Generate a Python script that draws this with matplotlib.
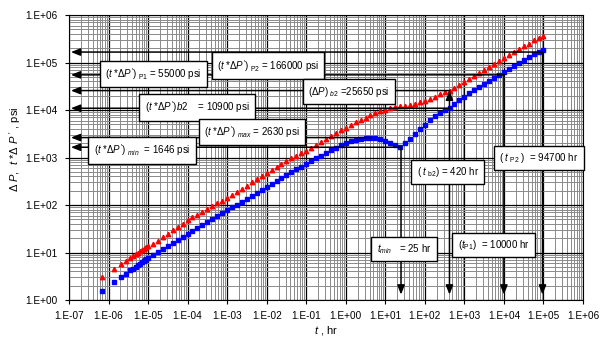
import numpy as np
import matplotlib
matplotlib.use("Agg")
import matplotlib.pyplot as plt
from matplotlib.ticker import LogLocator, FuncFormatter, NullFormatter

plt.rcParams['font.family'] = ['Liberation Sans', 'DejaVu Sans']
plt.rcParams['mathtext.fontset'] = 'custom'
plt.rcParams['mathtext.rm'] = 'Liberation Sans'
plt.rcParams['mathtext.it'] = 'Liberation Sans:italic'
plt.rcParams['mathtext.bf'] = 'Liberation Sans:bold'

# time, hr
t_hr = [7.0e-7, 1.4e-6, 2.1e-6, 2.8e-6, 3.5e-6, 4.2e-6, 4.9e-6, 5.6e-6, 6.3e-6, 7.0e-6,
        7.7e-6, 8.4e-6, 9.1e-6, 9.8e-6,
        1.33e-5, 1.78e-5, 2.37e-5, 3.16e-5, 4.22e-5, 5.62e-5, 7.5e-5, 1e-4,
        1.33e-4, 1.78e-4, 2.37e-4, 3.16e-4, 4.22e-4, 5.62e-4, 7.5e-4, 1e-3,
        1.33e-3, 1.78e-3, 2.37e-3, 3.16e-3, 4.22e-3, 5.62e-3, 7.5e-3, 1e-2,
        1.33e-2, 1.78e-2, 2.37e-2, 3.16e-2, 4.22e-2, 5.62e-2, 7.5e-2, 1e-1,
        0.133, 0.178, 0.237, 0.316, 0.422, 0.562, 0.75, 1.0,
        1.33, 1.78, 2.37, 3.16, 4.22, 5.62, 7.5, 10.0,
        13.3, 17.8, 23.7, 31.6, 42.2, 56.2, 75.0, 100.0,
        133, 178, 237, 316, 422, 562, 750, 1000,
        1330, 1780, 2370, 3160, 4220, 5620, 7500, 10000,
        13300, 17800, 23700, 31600, 42200, 56200, 75000, 94700]

# pressure drop, psi (red triangles)
dp_psi = [3.1, 4.4, 5.6, 6.6, 7.6, 8.4, 9.2, 9.9, 10.6, 11.2,
          11.8, 12.4, 12.9, 13.5,
          15.2, 17.9, 21.1, 24.8, 29.3, 34.5, 40.6, 47.9,
          54.8, 62.7, 71.8, 82.2, 94.1, 108, 123, 141,
          164, 190, 221, 257, 298, 347, 403, 468,
          542, 631, 731, 851, 966, 1089, 1225, 1403,
          1603, 1820, 2140, 2480, 2850, 3240, 3760, 4270,
          4810, 5520, 6120, 6800, 7690, 8610, 9460, 10140,
          10840, 11590, 11910, 12390, 12880, 13650, 14620, 15850,
          17380, 19050, 21380, 23440, 25700, 29500, 33900, 38900,
          45200, 52500, 61000, 70800, 82200, 94400, 108400, 124500,
          144500, 167900, 195000, 223900, 251200, 295100, 331100, 355000]

# derivative t*dP', psi (blue squares)
der_psi = [1.55, 2.4, 3.1, 3.6, 4.2, 4.6, 5.0, 5.4, 5.8, 6.2,
           6.5, 6.9, 7.2, 7.6,
           8.8, 10.2, 11.9, 13.8, 16.0, 18.6, 21.6, 25.1,
           28.9, 33.3, 38.4, 44.2, 50.8, 58.5, 67.4, 77.6,
           89.1, 102, 117, 135, 155, 178, 204, 234,
           272, 315, 366, 430, 501, 569, 643, 736,
           842, 955, 1088, 1247, 1422, 1615, 1815, 2023,
           2193, 2371, 2500, 2612, 2630, 2570, 2400, 2240,
           2040, 1840, 1660, 2040, 2430, 3090, 3980, 4900,
           6030, 7410, 8510, 9770, 11220, 13490, 16220, 19050,
           22390, 26300, 30900, 35480, 41210, 47860, 55590, 63100,
           73280, 85110, 97720, 112200, 128800, 151400, 168000, 185000]

# characteristic points (t, value)
t_min, der_min = 25, 1646
t_max, der_max = 4.4, 2630
t_b2, der_b2, dp_b2 = 420, 10900, 25650
t_p1, der_p1 = 10000, 55000
t_p2, der_p2 = 94700, 166000

fig = plt.figure(figsize=(6.04, 3.39), dpi=100)
ax = fig.add_axes([0.1142, 0.115, 0.851, 0.8407])
ax.set_xscale('log')
ax.set_yscale('log')
ax.set_xlim(1e-7, 1e6)
ax.set_ylim(1, 1e6)

ax.xaxis.set_major_locator(LogLocator(base=10, numticks=20))
ax.yaxis.set_major_locator(LogLocator(base=10, numticks=20))
ax.xaxis.set_minor_locator(LogLocator(base=10, subs=np.arange(2, 10), numticks=200))
ax.yaxis.set_minor_locator(LogLocator(base=10, subs=np.arange(2, 10), numticks=200))
fmt = FuncFormatter(lambda v, p: "1.E%+03d" % round(np.log10(v)))
ax.xaxis.set_major_formatter(fmt)
ax.yaxis.set_major_formatter(fmt)
ax.xaxis.set_minor_formatter(NullFormatter())
ax.yaxis.set_minor_formatter(NullFormatter())
ax.tick_params(which='major', length=3, width=0.8, labelsize=7.2, pad=5)
ax.tick_params(which='minor', length=0)

ax.grid(True, which='minor', color='#8a8a8a', lw=0.7)
ax.grid(True, which='major', color='black', lw=0.9)
ax.set_axisbelow(True)
for s in ax.spines.values():
    s.set_linewidth(0.8)

ax.plot(t_hr, der_psi, ls='none', marker='s', ms=2.8, color='#0000ff', mec='#0000ff', zorder=4)
ax.plot(t_hr, dp_psi, ls='none', marker='^', ms=3.2, color='#ff0000', mec='#ff0000', zorder=4)

arr = dict(arrowstyle='-|>,head_length=0.55,head_width=0.22', color='black', lw=1.1,
           shrinkA=0, shrinkB=0)
x_left = 1.12e-7
y_bot = 1.3

# horizontal arrows to the pressure axis
for tx, yv in [(t_p2, der_p2), (t_p1, der_p1), (t_b2, dp_b2), (t_b2, der_b2),
               (t_max, der_max), (t_min, der_min)]:
    ax.annotate('', xy=(x_left, yv), xytext=(tx, yv), arrowprops=arr, zorder=5)

# vertical arrows to the time axis
for tx, yv in [(t_min, der_min), (t_b2, dp_b2), (t_p1, der_p1), (t_p2, der_p2)]:
    ax.annotate('', xy=(tx, y_bot), xytext=(tx, yv), arrowprops=arr, zorder=5)
ax.annotate('', xy=(t_b2, dp_b2), xytext=(t_b2, dp_b2 / 1.6), arrowprops=arr, zorder=5)

box = dict(boxstyle='square,pad=0.55', fc='white', ec='black', lw=1.0)
labels = [
    (0.387, 0.822, r"$(t\ {*}\Delta P')_{\ \mathrm{P2}}$ = 166000 psi"),
    (0.164, 0.793, r"$(t\ {*}\Delta P')_{\ \mathrm{P1}}$ = 55000 psi"),
    (0.249, 0.676, r"$(t\ {*}\Delta P')b2$    = 10900 psi"),
    (0.356, 0.590, r"$(t\ {*}\Delta P')_{\ max}$ = 2630 psi"),
    (0.142, 0.525, r"$(t\ {*}\Delta P')_{\ min}$  = 1646 psi"),
    (0.545, 0.731, r"$(\Delta P)_{\ b2}$ =25650 psi"),
    (0.914, 0.498, r"$(\ t_{\ \mathrm{P2}}\ )$  = 94700 hr"),
    (0.737, 0.449, r"$(\ t_{\ \mathrm{b2}})$ = 420 hr"),
    (0.652, 0.179, r"$t_{min}$   = 25 hr"),
    (0.826, 0.193, r"$(t_{\mathrm{P1}})$  = 10000 hr"),
]
for fx, fy, s in labels:
    ax.text(fx, fy, s, transform=ax.transAxes, ha='center', va='center',
            fontsize=7, bbox=box, zorder=6)

ax.set_xlabel(r"$t$ , hr", fontsize=8, labelpad=2)
ax.set_ylabel(r"$\Delta\ P$,  $t\ {*}\Delta\ P\ '$ , psi", fontsize=8)
ax.yaxis.set_label_coords(-0.09, 0.53)

fig.savefig("out.png", dpi=100)
